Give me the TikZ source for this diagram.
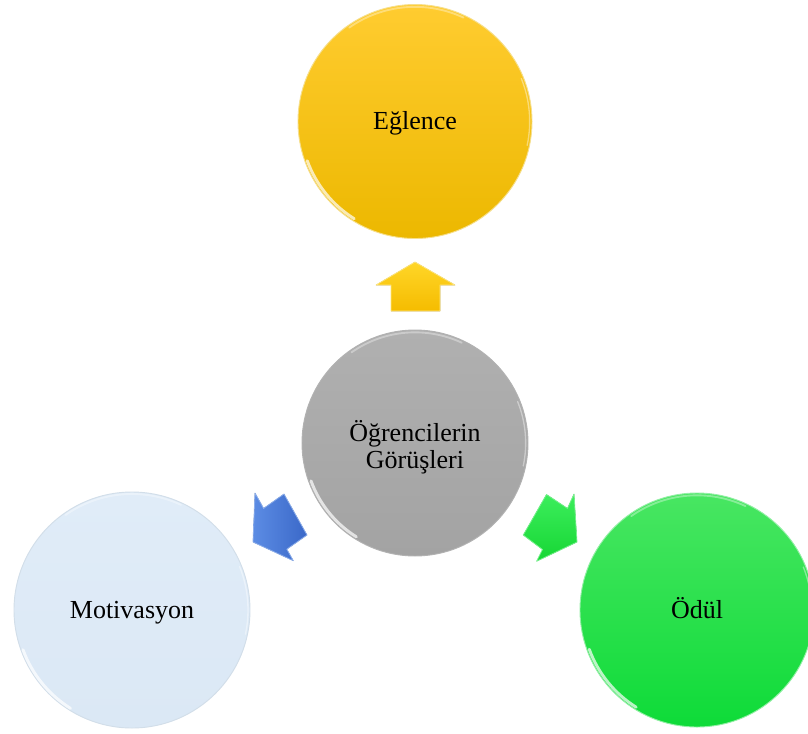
\documentclass[tikz,border=0pt]{standalone}
\usepackage{fontspec}
\setmainfont{Liberation Serif}
\definecolor{ytop}{RGB}{255,204,48}
\definecolor{ybot}{RGB}{236,184,0}
\definecolor{gtop}{RGB}{176,176,176}
\definecolor{gbot}{RGB}{163,163,163}
\definecolor{btop}{RGB}{224,236,248}
\definecolor{bbot}{RGB}{219,232,245}
\definecolor{ntop}{RGB}{72,230,98}
\definecolor{nbot}{RGB}{14,219,56}
\definecolor{arrY1}{RGB}{255,214,40}
\definecolor{arrY2}{RGB}{245,188,0}
\definecolor{arrB1}{RGB}{92,140,228}
\definecolor{arrB2}{RGB}{58,104,200}
\definecolor{arrG1}{RGB}{60,238,92}
\definecolor{arrG2}{RGB}{22,214,52}
\begin{document}
\begin{tikzpicture}[x=0.75pt,y=-0.75pt,
  bubble/.style={circle, inner sep=0pt, minimum size=#1*1.5pt},
  lbl/.style={font=\fontsize{19.5}{20.25}\selectfont, align=center, text=black, inner sep=0pt},
  rim/.style={draw=#1, line width=0.7pt},
  hl/.style={white, line cap=round},
  blockarrow/.style={line join=round, draw=#1, line width=0.6pt}
]
\useasboundingbox (0,0) rectangle (808,733);

% circles
\node[bubble=117, top color=ytop, bottom color=ybot, rim=ybot!45!white] (eg) at (415,121.5) {};
\node[bubble=113, top color=gtop, bottom color=gbot, rim=gray!60!white] (og) at (415,443) {};
\node[bubble=118, top color=btop, bottom color=bbot, rim=bbot!90!gray] (mo) at (132,610) {};
\node[bubble=117, top color=ntop, bottom color=nbot, rim=nbot!45!white] (od) at (697,610) {};

% glossy highlights
\foreach \c/\r in {eg/86, og/83, mo/87, od/86}{
  \draw[hl, line width=2.2pt, opacity=0.7] (\c.center) ++(200:\r pt) arc[start angle=200, end angle=238, radius=\r pt];
  \draw[hl, line width=1.4pt, opacity=0.35] (\c.center) ++(65:\r pt) arc[start angle=65, end angle=125, radius=\r pt];
  \draw[hl, line width=1pt, opacity=0.4] (\c.center) ++(-12:\r pt) arc[start angle=-12, end angle=22, radius=\r pt];
}

% labels
\node[lbl, anchor=base] (teg) at (415,129) {Eğlence};
\node[lbl] (tog) at (415,447) {Öğrencilerin\\Görüşleri};
\node[lbl, anchor=base] (tmo) at (132,618) {Motivasyon};
\node[lbl, anchor=base] (tod) at (697,618) {Ödül};

% block arrows
\fill[top color=arrY1, bottom color=arrY2, blockarrow=arrY1!60!white]
  (415,262) -- (455,285) -- (440,285) -- (440,311) -- (391,311) -- (391,285) -- (376,285) -- cycle;
\fill[left color=arrB1, right color=arrB2, blockarrow=arrB1!70!white]
  (253,542) -- (255,493) -- (263.6,508.4) -- (284,494) -- (307,535) -- (286.8,549.2) -- (293.3,560.7) -- cycle;
\fill[top color=arrG1, bottom color=arrG2, blockarrow=arrG1!70!white]
  (577,542) -- (574,494) -- (567.5,508.4) -- (546.5,494.5) -- (523.3,535) -- (542.5,549.5) -- (536.7,561.2) -- cycle;
\end{tikzpicture}
\end{document}
